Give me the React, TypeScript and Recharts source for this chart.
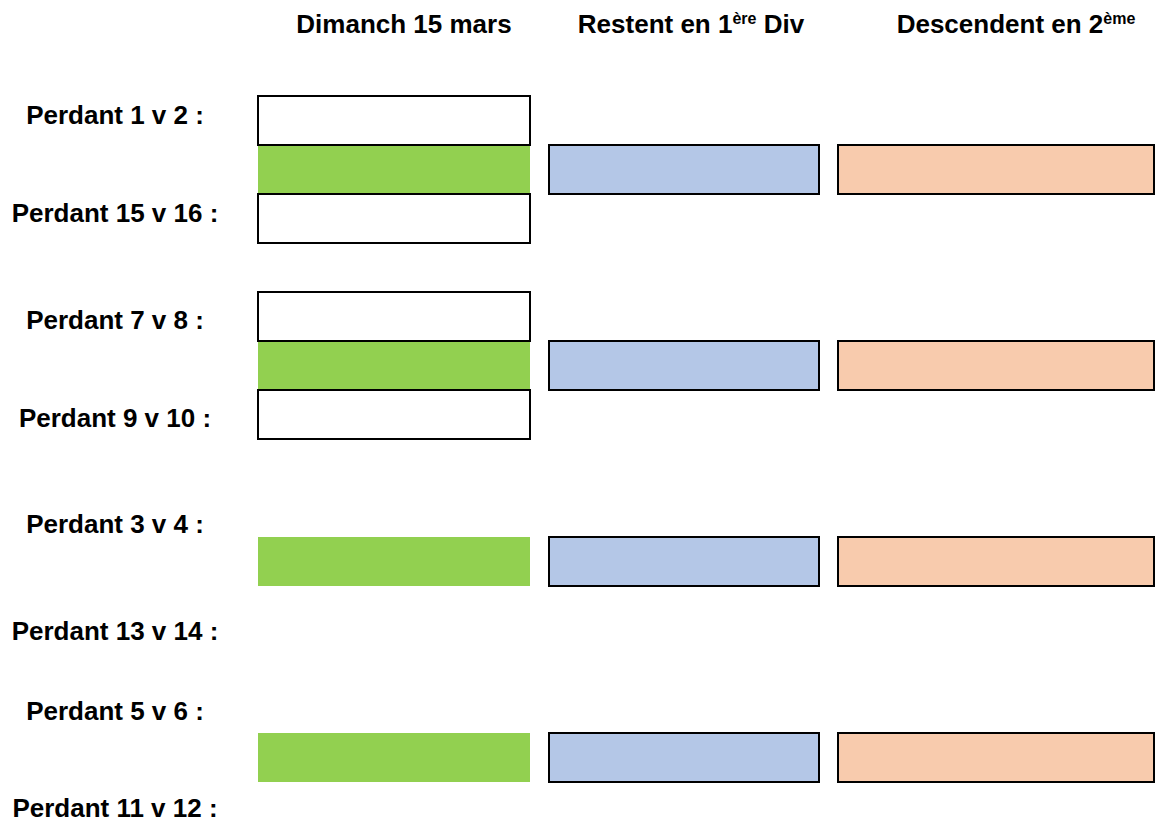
import React from "react";
import { BarChart, Bar, XAxis, YAxis, LabelList } from "recharts";

// ---- content ----
const columnTitles: string[][] = [
  ["Dimanch 15 mars"],
  ["Restent en 1", "ère", " Div"],
  ["Descendent en 2", "ème"],
];
const upperLosers = ["Perdant 1 v 2 :", "Perdant 7 v 8 :", "Perdant 3 v 4 :", "Perdant 5 v 6 :"];
const lowerLosers = ["Perdant 15 v 16 :", "Perdant 9 v 10 :", "Perdant 13 v 14 :", "Perdant 11 v 12 :"];
const hasEntryBoxes = [true, true, false, false];

// ---- layout / style constants ----
const W = 1161;
const H = 831;
const SEG = { lead: 258, c1: 272, g1: 19, c2: 270, g2: 19, c3: 316, tail: 7 };
const TOTAL = SEG.lead + SEG.c1 + SEG.g1 + SEG.c2 + SEG.g2 + SEG.c3 + SEG.tail;
const HEADER_H = 96;
const HEADER_NUDGE = [10, 7, 20];
const LABEL_X = 115;
const LABEL_NUDGE = [
  [-6, -6],
  [3, 3.5],
  [11.5, 20],
  [2, 1.5],
];
const FONT = "'Liberation Sans', Arial, Helvetica, sans-serif";
const FONT_SIZE = 26;
const COLORS: Record<string, string> = {
  white: "#FFFFFF",
  green: "#92D050",
  blue: "#B4C7E7",
  orange: "#F8CBAD",
};

type Row = {
  slot: string;
  label: string;
  group: number;
  pos: number; // 0 upper, 1 middle, 2 lower, 3 spacer
  k1: string;
  k2: string;
  k3: string;
  joined: boolean;
  lead: number;
  c1: number;
  g1: number;
  c2: number;
  g2: number;
  c3: number;
  tail: number;
};

const rows: Row[] = [];
upperLosers.forEach((up, g) => {
  const entry = hasEntryBoxes[g];
  const base = { group: g, joined: entry, ...SEG };
  rows.push({ ...base, slot: `g${g}-a`, label: up, pos: 0, k1: entry ? "white" : "none", k2: "none", k3: "none" });
  rows.push({ ...base, slot: `g${g}-b`, label: "", pos: 1, k1: "green", k2: "blue", k3: "orange" });
  rows.push({ ...base, slot: `g${g}-c`, label: lowerLosers[g], pos: 2, k1: entry ? "white" : "none", k2: "none", k3: "none" });
  if (g < upperLosers.length - 1) {
    rows.push({ ...base, slot: `g${g}-d`, label: "", pos: 3, k1: "none", k2: "none", k3: "none" });
  }
});
const rowByLabel: Record<string, Row> = {};
rows.forEach((r) => {
  if (r.label) rowByLabel[r.label] = r;
});

const headerTicks = [
  SEG.lead + SEG.c1 / 2,
  SEG.lead + SEG.c1 + SEG.g1 + SEG.c2 / 2,
  SEG.lead + SEG.c1 + SEG.g1 + SEG.c2 + SEG.g2 + SEG.c3 / 2,
];

const HeaderTick = (props: any) => {
  const { x, payload } = props;
  const index = headerTicks.indexOf(payload?.value);
  const parts = columnTitles[index] || [];
  return (
    <text
      x={x + (HEADER_NUDGE[index] || 0)}
      y={33}
      textAnchor="middle"
      fontFamily={FONT}
      fontWeight="bold"
      fontSize={FONT_SIZE}
      fill="#000"
      style={{ whiteSpace: "pre" }}
    >
      {parts.map((p, i) =>
        i % 2 === 1 ? (
          <tspan key={i} fontSize={16} dy={-9}>
            {p}
          </tspan>
        ) : (
          <tspan key={i} dy={i > 0 ? 9 : 0}>
            {p}
          </tspan>
        )
      )}
    </text>
  );
};

const RowLabel = (props: any) => {
  const { y, height, value } = props;
  const row = rowByLabel[value as string];
  if (!row) return <g />;
  const nudge = LABEL_NUDGE[row.group][row.pos === 0 ? 0 : 1];
  const cy = Number(y) + Number(height) / 2;
  return (
    <text
      x={LABEL_X}
      y={cy + nudge + 9.3}
      textAnchor="middle"
      fontFamily={FONT}
      fontWeight="bold"
      fontSize={FONT_SIZE}
      fill="#000"
    >
      {row.label}
    </text>
  );
};

const Empty = () => <g />;

const makeBox = (kindKey: "k1" | "k2" | "k3") => (props: any) => {
  const { x, y, width, height, payload } = props;
  const kind = payload[kindKey];
  if (kind === "none") return <g />;
  if (kind === "green") {
    return (
      <g>
        <rect x={x} y={y} width={width} height={height} fill={COLORS.green} stroke="none" />
        {payload.joined && (
          <>
            <line x1={x} x2={x + width} y1={y} y2={y} stroke="#000" strokeWidth={2} />
            <line x1={x} x2={x + width} y1={y + height} y2={y + height} stroke="#000" strokeWidth={2} />
          </>
        )}
      </g>
    );
  }
  return <rect x={x} y={y} width={width} height={height} fill={COLORS[kind]} stroke="#000" strokeWidth={2} />;
};

const Box1 = makeBox("k1");
const Box2 = makeBox("k2");
const Box3 = makeBox("k3");

export default function App() {
  return (
    <div
      style={{
        position: "absolute",
        left: 0,
        top: 0,
        width: W,
        height: 826,
        overflow: "hidden",
        background: "#fff",
      }}
    >
      <BarChart
        width={W}
        height={H}
        data={rows}
        layout="vertical"
        margin={{ top: 0, right: 0, bottom: 0, left: 0 }}
        barCategoryGap={0}
        barGap={0}
      >
        <XAxis
          type="number"
          orientation="top"
          domain={[0, TOTAL]}
          allowDataOverflow
          ticks={headerTicks}
          interval={0}
          height={HEADER_H}
          axisLine={false}
          tickLine={false}
          tick={(p: any) => <HeaderTick {...p} />}
        />
        <YAxis type="category" dataKey="slot" width={0} hide />
        <Bar dataKey="lead" stackId="s" shape={Empty} isAnimationActive={false}>
          <LabelList dataKey="label" content={(p: any) => <RowLabel {...p} />} />
        </Bar>
        <Bar dataKey="c1" stackId="s" shape={Box1} isAnimationActive={false} />
        <Bar dataKey="g1" stackId="s" shape={Empty} isAnimationActive={false} />
        <Bar dataKey="c2" stackId="s" shape={Box2} isAnimationActive={false} />
        <Bar dataKey="g2" stackId="s" shape={Empty} isAnimationActive={false} />
        <Bar dataKey="c3" stackId="s" shape={Box3} isAnimationActive={false} />
        <Bar dataKey="tail" stackId="s" shape={Empty} isAnimationActive={false} />
      </BarChart>
    </div>
  );
}
